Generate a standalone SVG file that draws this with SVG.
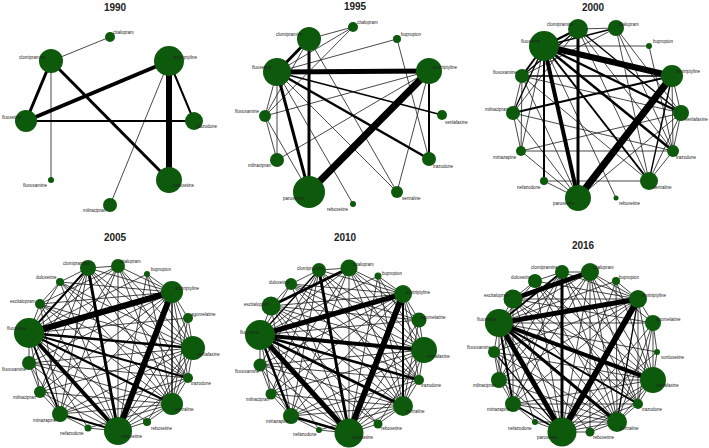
<svg xmlns="http://www.w3.org/2000/svg" xmlns:xlink="http://www.w3.org/1999/xlink" width="709" height="448" viewBox="0 0 709 448">
<style>
line{stroke:#000;stroke-linecap:butt}
.t{stroke-width:0.8;stroke:#1a1a1a}
.m{stroke-width:1.4}
.w2{stroke-width:2}
.w25{stroke-width:2.5}
.w3{stroke-width:3}
.w4{stroke-width:4}
.w5{stroke-width:5}
.w6{stroke-width:6}
.w7{stroke-width:7}
circle{fill:#0d5a0d}
.lab{font-family:"Liberation Sans",Arial,sans-serif;font-size:4.5px;fill:#222}
.ttl{font-family:"Liberation Sans",Arial,sans-serif;font-size:10px;font-weight:bold;fill:#222;text-anchor:middle}
</style>
<defs>
<g id="thin0510">
<line class="t" x1="29" y1="333" x2="118" y2="266"/>
<line class="t" x1="29" y1="333" x2="147" y2="274"/>
<line class="t" x1="29" y1="333" x2="188" y2="318"/>
<line class="t" x1="29" y1="333" x2="147" y2="422"/>
<line class="t" x1="29" y1="333" x2="88" y2="428"/>
<line class="t" x1="29" y1="333" x2="40" y2="392"/>
<line class="t" x1="29" y1="333" x2="29" y2="363"/>
<line class="t" x1="29" y1="333" x2="40" y2="304"/>
<line class="t" x1="29" y1="333" x2="60" y2="282"/>
<line class="t" x1="118" y1="431" x2="118" y2="266"/>
<line class="t" x1="118" y1="431" x2="60" y2="282"/>
<line class="t" x1="118" y1="431" x2="40" y2="304"/>
<line class="t" x1="118" y1="431" x2="29" y2="363"/>
<line class="t" x1="118" y1="431" x2="40" y2="392"/>
<line class="t" x1="118" y1="431" x2="88" y2="428"/>
<line class="t" x1="118" y1="431" x2="147" y2="422"/>
<line class="t" x1="118" y1="431" x2="172" y2="404"/>
<line class="t" x1="118" y1="431" x2="188" y2="378"/>
<line class="t" x1="118" y1="431" x2="193" y2="348"/>
<line class="t" x1="118" y1="431" x2="188" y2="318"/>
<line class="t" x1="118" y1="431" x2="147" y2="274"/>
<line class="t" x1="172" y1="292" x2="88" y2="268"/>
<line class="t" x1="172" y1="292" x2="118" y2="266"/>
<line class="t" x1="172" y1="292" x2="147" y2="274"/>
<line class="t" x1="172" y1="292" x2="188" y2="318"/>
<line class="t" x1="172" y1="292" x2="193" y2="348"/>
<line class="t" x1="172" y1="292" x2="188" y2="378"/>
<line class="t" x1="172" y1="292" x2="40" y2="392"/>
<line class="t" x1="172" y1="292" x2="60" y2="414"/>
<line class="t" x1="172" y1="292" x2="29" y2="363"/>
<line class="t" x1="172" y1="292" x2="40" y2="304"/>
<line class="t" x1="172" y1="292" x2="60" y2="282"/>
<line class="t" x1="193" y1="348" x2="88" y2="268"/>
<line class="t" x1="193" y1="348" x2="118" y2="266"/>
<line class="t" x1="193" y1="348" x2="40" y2="304"/>
<line class="t" x1="193" y1="348" x2="29" y2="363"/>
<line class="t" x1="193" y1="348" x2="40" y2="392"/>
<line class="t" x1="193" y1="348" x2="60" y2="414"/>
<line class="t" x1="193" y1="348" x2="172" y2="404"/>
<line class="t" x1="193" y1="348" x2="188" y2="378"/>
<line class="t" x1="193" y1="348" x2="188" y2="318"/>
<line class="t" x1="193" y1="348" x2="60" y2="282"/>
<line class="t" x1="172" y1="404" x2="88" y2="268"/>
<line class="t" x1="172" y1="404" x2="118" y2="266"/>
<line class="t" x1="172" y1="404" x2="40" y2="304"/>
<line class="t" x1="172" y1="404" x2="29" y2="363"/>
<line class="t" x1="172" y1="404" x2="60" y2="414"/>
<line class="t" x1="172" y1="404" x2="40" y2="392"/>
<line class="t" x1="172" y1="404" x2="147" y2="422"/>
<line class="t" x1="172" y1="404" x2="88" y2="428"/>
<line class="t" x1="172" y1="404" x2="188" y2="378"/>
<line class="t" x1="118" y1="266" x2="88" y2="268"/>
<line class="t" x1="118" y1="266" x2="40" y2="304"/>
<line class="t" x1="118" y1="266" x2="60" y2="414"/>
<line class="t" x1="118" y1="266" x2="188" y2="378"/>
<line class="t" x1="118" y1="266" x2="40" y2="392"/>
<line class="t" x1="88" y1="268" x2="188" y2="378"/>
<line class="t" x1="88" y1="268" x2="40" y2="392"/>
<line class="t" x1="88" y1="268" x2="29" y2="363"/>
<line class="t" x1="88" y1="268" x2="60" y2="414"/>
<line class="t" x1="88" y1="268" x2="60" y2="282"/>
<line class="t" x1="60" y1="414" x2="188" y2="378"/>
<line class="t" x1="60" y1="414" x2="40" y2="392"/>
<line class="t" x1="60" y1="414" x2="29" y2="363"/>
<line class="t" x1="60" y1="414" x2="88" y2="428"/>
<line class="t" x1="40" y1="304" x2="60" y2="282"/>
<line class="t" x1="29" y1="363" x2="40" y2="392"/>
<line class="t" x1="29" y1="363" x2="188" y2="378"/>
<line class="t" x1="147" y1="274" x2="172" y2="404"/>
<line class="t" x1="147" y1="274" x2="193" y2="348"/>
<line class="t" x1="147" y1="422" x2="193" y2="348"/>
<line class="t" x1="188" y1="318" x2="172" y2="404"/>
<line class="t" x1="60" y1="282" x2="188" y2="378"/>
<line class="t" x1="40" y1="304" x2="188" y2="378"/>
<line class="t" x1="40" y1="304" x2="60" y2="414"/>
<line class="t" x1="60" y1="282" x2="172" y2="404"/>
</g>
</defs>

<!-- ============ 1990 ============ -->
<text class="ttl" x="115" y="11">1990</text>
<g id="edges-1990">
<line class="t" x1="51" y1="61" x2="110" y2="37"/>
<line class="w3" x1="51" y1="61" x2="26" y2="121"/>
<line class="w3" x1="51" y1="61" x2="169" y2="180"/>
<line class="t" x1="51" y1="61" x2="51" y2="180"/>
<line class="w4" x1="169" y1="61" x2="26" y2="121"/>
<line class="w6" x1="169" y1="61" x2="169" y2="180"/>
<line class="w2" x1="169" y1="61" x2="194" y2="121"/>
<line class="t" x1="169" y1="61" x2="110" y2="205"/>
<line class="w2" x1="26" y1="121" x2="194" y2="121"/>
</g>
<g id="n1990-citalopram"><circle cx="110" cy="37" r="5"/><text class="lab" x="113" y="34">citalopram</text></g>
<g id="n1990-clomipramine"><circle cx="51" cy="61" r="12"/><text class="lab" x="19" y="59">clomipramine</text></g>
<g id="n1990-amitriptyline"><circle cx="169" cy="61" r="15"/><text class="lab" x="173" y="59">amitriptyline</text></g>
<g id="n1990-fluoxetine"><circle cx="26" cy="121" r="11"/><text class="lab" x="2" y="119">fluoxetine</text></g>
<g id="n1990-trazodone"><circle cx="194" cy="121" r="9"/><text class="lab" x="197" y="128">trazodone</text></g>
<g id="n1990-fluvoxamine"><circle cx="51" cy="180" r="3"/><text class="lab" x="23" y="187">fluvoxamine</text></g>
<g id="n1990-paroxetine"><circle cx="169" cy="180" r="13"/><text class="lab" x="173" y="187">paroxetine</text></g>
<g id="n1990-milnacipran"><circle cx="110" cy="205" r="7"/><text class="lab" x="83" y="212">milnacipran</text></g>

<!-- ============ 1995 ============ -->
<text class="ttl" x="355" y="10">1995</text>
<g id="edges-1995">
<line class="t" x1="309" y1="39" x2="353" y2="27"/>
<line class="t" x1="277" y1="72" x2="353" y2="27"/>
<line class="t" x1="277" y1="72" x2="397" y2="39"/>
<line class="m" x1="277" y1="72" x2="442" y2="115"/>
<line class="t" x1="277" y1="72" x2="397" y2="192"/>
<line class="t" x1="277" y1="72" x2="353" y2="204"/>
<line class="t" x1="277" y1="72" x2="265" y2="116"/>
<line class="t" x1="277" y1="72" x2="277" y2="160"/>
<line class="t" x1="429" y1="71" x2="265" y2="116"/>
<line class="t" x1="429" y1="71" x2="277" y2="160"/>
<line class="t" x1="429" y1="71" x2="397" y2="192"/>
<line class="t" x1="397" y1="39" x2="429" y2="159"/>
<line class="t" x1="309" y1="39" x2="397" y2="192"/>
<line class="t" x1="309" y1="39" x2="265" y2="116"/>
<line class="t" x1="265" y1="116" x2="353" y2="27"/>
<line class="t" x1="265" y1="116" x2="309" y2="192"/>
<line class="t" x1="265" y1="116" x2="277" y2="160"/>
<line class="w5" x1="277" y1="72" x2="429" y2="71"/>
<line class="w7" x1="429" y1="71" x2="309" y2="192"/>
<line class="w3" x1="309" y1="39" x2="309" y2="192"/>
<line class="w3" x1="277" y1="72" x2="309" y2="192"/>
<line class="w25" x1="277" y1="72" x2="429" y2="159"/>
<line class="w3" x1="309" y1="39" x2="277" y2="72"/>
<line class="w2" x1="429" y1="71" x2="429" y2="159"/>
</g>
<g id="n1995-citalopram"><circle cx="353" cy="27" r="5"/><text class="lab" x="357" y="24">citalopram</text></g>
<g id="n1995-bupropion"><circle cx="397" cy="39" r="4"/><text class="lab" x="401" y="36">bupropion</text></g>
<g id="n1995-clomipramine"><circle cx="309" cy="39" r="12"/><text class="lab" x="276" y="36">clomipramine</text></g>
<g id="n1995-fluoxetine"><circle cx="277" cy="72" r="14"/><text class="lab" x="252" y="69">fluoxetine</text></g>
<g id="n1995-amitriptyline"><circle cx="429" cy="71" r="13"/><text class="lab" x="433" y="69">amitriptyline</text></g>
<g id="n1995-fluvoxamine"><circle cx="265" cy="116" r="6"/><text class="lab" x="235" y="113">fluvoxamine</text></g>
<g id="n1995-venlafaxine"><circle cx="442" cy="115" r="5"/><text class="lab" x="445" y="124">venlafaxine</text></g>
<g id="n1995-milnacipran"><circle cx="277" cy="160" r="7"/><text class="lab" x="248" y="167">milnacipran</text></g>
<g id="n1995-trazodone"><circle cx="429" cy="159" r="7"/><text class="lab" x="433" y="168">trazodone</text></g>
<g id="n1995-paroxetine"><circle cx="309" cy="192" r="16"/><text class="lab" x="283" y="200">paroxetine</text></g>
<g id="n1995-sertraline"><circle cx="397" cy="192" r="6"/><text class="lab" x="402" y="200">sertraline</text></g>
<g id="n1995-reboxetine"><circle cx="353" cy="204" r="3"/><text class="lab" x="327" y="211">reboxetine</text></g>

<!-- ============ 2000 ============ -->
<text class="ttl" x="593" y="11">2000</text>
<g id="edges-2000">
<line class="m" x1="544" y1="46" x2="616" y2="28"/>
<line class="m" x1="544" y1="46" x2="513" y2="113"/>
<line class="t" x1="544" y1="46" x2="521" y2="151"/>
<line class="t" x1="544" y1="46" x2="616" y2="198"/>
<line class="t" x1="544" y1="46" x2="649" y2="46"/>
<line class="t" x1="578" y1="29" x2="616" y2="28"/>
<line class="m" x1="578" y1="29" x2="522" y2="76"/>
<line class="m" x1="578" y1="29" x2="681" y2="113"/>
<line class="t" x1="578" y1="29" x2="649" y2="181"/>
<line class="t" x1="578" y1="29" x2="673" y2="151"/>
<line class="t" x1="578" y1="29" x2="513" y2="113"/>
<line class="t" x1="616" y1="28" x2="681" y2="113"/>
<line class="t" x1="616" y1="28" x2="649" y2="181"/>
<line class="t" x1="616" y1="28" x2="522" y2="76"/>
<line class="t" x1="616" y1="28" x2="673" y2="151"/>
<line class="t" x1="649" y1="46" x2="673" y2="151"/>
<line class="m" x1="672" y1="76" x2="522" y2="76"/>
<line class="t" x1="672" y1="76" x2="681" y2="113"/>
<line class="t" x1="672" y1="76" x2="673" y2="151"/>
<line class="m" x1="672" y1="76" x2="649" y2="181"/>
<line class="t" x1="522" y1="76" x2="513" y2="113"/>
<line class="t" x1="522" y1="76" x2="521" y2="151"/>
<line class="t" x1="522" y1="76" x2="578" y2="198"/>
<line class="t" x1="522" y1="76" x2="649" y2="181"/>
<line class="t" x1="522" y1="76" x2="681" y2="113"/>
<line class="t" x1="513" y1="113" x2="521" y2="151"/>
<line class="t" x1="513" y1="113" x2="578" y2="198"/>
<line class="t" x1="513" y1="113" x2="673" y2="151"/>
<line class="t" x1="521" y1="151" x2="673" y2="151"/>
<line class="t" x1="521" y1="151" x2="578" y2="198"/>
<line class="t" x1="544" y1="181" x2="649" y2="181"/>
<line class="t" x1="544" y1="181" x2="578" y2="198"/>
<line class="t" x1="681" y1="113" x2="673" y2="151"/>
<line class="t" x1="681" y1="113" x2="649" y2="181"/>
<line class="t" x1="681" y1="113" x2="578" y2="198"/>
<line class="t" x1="673" y1="151" x2="649" y2="181"/>
<line class="t" x1="681" y1="113" x2="521" y2="151"/>
<line class="w6" x1="544" y1="46" x2="672" y2="76"/>
<line class="w7" x1="672" y1="76" x2="578" y2="198"/>
<line class="w4" x1="544" y1="46" x2="578" y2="198"/>
<line class="w3" x1="578" y1="29" x2="578" y2="198"/>
<line class="w25" x1="544" y1="46" x2="681" y2="113"/>
<line class="w25" x1="544" y1="46" x2="673" y2="151"/>
<line class="w2" x1="544" y1="46" x2="649" y2="181"/>
<line class="w2" x1="544" y1="46" x2="544" y2="181"/>
<line class="w25" x1="544" y1="46" x2="578" y2="29"/>
<line class="w2" x1="672" y1="76" x2="513" y2="113"/>
<line class="w2" x1="544" y1="46" x2="522" y2="76"/>
</g>
<g id="n2000-clomipramine"><circle cx="578" cy="29" r="10"/><text class="lab" x="547" y="26">clomipramine</text></g>
<g id="n2000-citalopram"><circle cx="616" cy="28" r="8"/><text class="lab" x="618" y="26">citalopram</text></g>
<g id="n2000-bupropion"><circle cx="649" cy="46" r="3"/><text class="lab" x="653" y="43">bupropion</text></g>
<g id="n2000-fluoxetine"><circle cx="544" cy="46" r="15"/><text class="lab" x="521" y="43">fluoxetine</text></g>
<g id="n2000-fluvoxamine"><circle cx="522" cy="76" r="7"/><text class="lab" x="493" y="74">fluvoxamine</text></g>
<g id="n2000-amitriptyline"><circle cx="672" cy="76" r="11"/><text class="lab" x="676" y="73">amitriptyline</text></g>
<g id="n2000-milnacipran"><circle cx="513" cy="113" r="7"/><text class="lab" x="485" y="111">milnacipran</text></g>
<g id="n2000-venlafaxine"><circle cx="681" cy="113" r="8"/><text class="lab" x="685" y="121">venlafaxine</text></g>
<g id="n2000-mirtazapine"><circle cx="521" cy="151" r="5"/><text class="lab" x="493" y="159">mirtazapine</text></g>
<g id="n2000-trazodone"><circle cx="673" cy="151" r="6"/><text class="lab" x="676" y="159">trazodone</text></g>
<g id="n2000-nefazodone"><circle cx="544" cy="181" r="4"/><text class="lab" x="517" y="189">nefazodone</text></g>
<g id="n2000-sertraline"><circle cx="649" cy="181" r="9"/><text class="lab" x="653" y="189">sertraline</text></g>
<g id="n2000-paroxetine"><circle cx="578" cy="198" r="13"/><text class="lab" x="553" y="205">paroxetine</text></g>
<g id="n2000-reboxetine"><circle cx="616" cy="198" r="2.5"/><text class="lab" x="619" y="205">reboxetine</text></g>

<!-- ============ 2005 ============ -->
<text class="ttl" x="115" y="241">2005</text>
<g id="edges-2005">
<use href="#thin0510" xlink:href="#thin0510"/>
<line class="w6" x1="29" y1="333" x2="172" y2="292"/>
<line class="w6" x1="172" y1="292" x2="118" y2="431"/>
<line class="w4" x1="29" y1="333" x2="118" y2="431"/>
<line class="w3" x1="88" y1="268" x2="118" y2="431"/>
<line class="w25" x1="29" y1="333" x2="193" y2="348"/>
<line class="w25" x1="29" y1="333" x2="172" y2="404"/>
<line class="w2" x1="29" y1="333" x2="188" y2="378"/>
<line class="w2" x1="29" y1="333" x2="88" y2="268"/>
<line class="m" x1="172" y1="292" x2="172" y2="404"/>
<line class="w2" x1="60" y1="414" x2="118" y2="431"/>
<line class="w2" x1="29" y1="333" x2="60" y2="414"/>
</g>
<g id="n2005-citalopram"><circle cx="118" cy="266" r="7"/><text class="lab" x="120" y="263">citalopram</text></g>
<g id="n2005-bupropion"><circle cx="147" cy="274" r="3"/><text class="lab" x="151" y="271">bupropion</text></g>
<g id="n2005-amitriptyline"><circle cx="172" cy="292" r="11"/><text class="lab" x="175" y="290">amitriptyline</text></g>
<g id="n2005-agomelatine"><circle cx="188" cy="318" r="5"/><text class="lab" x="191" y="316">agomelatine</text></g>
<g id="n2005-venlafaxine"><circle cx="193" cy="348" r="12"/><text class="lab" x="197" y="356">venlafaxine</text></g>
<g id="n2005-trazodone"><circle cx="188" cy="378" r="5"/><text class="lab" x="191" y="385">trazodone</text></g>
<g id="n2005-sertraline"><circle cx="172" cy="404" r="11"/><text class="lab" x="175" y="411">sertraline</text></g>
<g id="n2005-reboxetine"><circle cx="147" cy="422" r="4"/><text class="lab" x="151" y="430">reboxetine</text></g>
<g id="n2005-paroxetine"><circle cx="118" cy="431" r="14"/><text class="lab" x="121" y="438">paroxetine</text></g>
<g id="n2005-nefazodone"><circle cx="88" cy="428" r="3.5"/><text class="lab" x="60" y="435">nefazodone</text></g>
<g id="n2005-mirtazapine"><circle cx="60" cy="414" r="8"/><text class="lab" x="33" y="422">mirtazapine</text></g>
<g id="n2005-milnacipran"><circle cx="40" cy="392" r="6"/><text class="lab" x="13" y="399">milnacipran</text></g>
<g id="n2005-fluvoxamine"><circle cx="29" cy="363" r="7"/><text class="lab" x="2" y="371">fluvoxamine</text></g>
<g id="n2005-fluoxetine"><circle cx="29" cy="333" r="15"/><text class="lab" x="7" y="330">fluoxetine</text></g>
<g id="n2005-escitalopram"><circle cx="40" cy="304" r="5"/><text class="lab" x="10" y="303">escitalopram</text></g>
<g id="n2005-duloxetine"><circle cx="60" cy="282" r="4"/><text class="lab" x="36" y="279">duloxetine</text></g>
<g id="n2005-clomipramine"><circle cx="88" cy="268" r="8"/><text class="lab" x="63" y="265">clomipramine</text></g>

<!-- ============ 2010 ============ -->
<text class="ttl" x="345" y="241">2010</text>
<g id="edges-2010" transform="translate(231,2)">
<use href="#thin0510" xlink:href="#thin0510"/>
<line class="t" x1="40" y1="304" x2="188" y2="318"/>
<line class="t" x1="60" y1="282" x2="188" y2="318"/>
<line class="t" x1="118" y1="266" x2="188" y2="318"/>
<line class="t" x1="40" y1="304" x2="147" y2="422"/>
<line class="w5" x1="29" y1="333" x2="172" y2="292"/>
<line class="w6" x1="172" y1="292" x2="118" y2="431"/>
<line class="w5" x1="29" y1="333" x2="118" y2="431"/>
<line class="w3" x1="88" y1="268" x2="118" y2="431"/>
<line class="w4" x1="29" y1="333" x2="193" y2="348"/>
<line class="w3" x1="29" y1="333" x2="172" y2="404"/>
<line class="w25" x1="29" y1="333" x2="188" y2="378"/>
<line class="w3" x1="40" y1="304" x2="118" y2="266"/>
<line class="w25" x1="29" y1="333" x2="60" y2="414"/>
<line class="w25" x1="60" y1="414" x2="118" y2="431"/>
<line class="m" x1="29" y1="333" x2="88" y2="268"/>
<line class="w2" x1="172" y1="292" x2="172" y2="404"/>
</g>
<g id="nodes-2010" transform="translate(231,2)">
<g id="n2010-citalopram"><circle cx="118" cy="266" r="8.5"/><text class="lab" x="122" y="264">citalopram</text></g>
<g id="n2010-bupropion"><circle cx="147" cy="274" r="3.5"/><text class="lab" x="151" y="273">bupropion</text></g>
<g id="n2010-amitriptyline"><circle cx="172" cy="292" r="9"/><text class="lab" x="175" y="292">amitriptyline</text></g>
<g id="n2010-agomelatine"><circle cx="188" cy="318" r="7.5"/><text class="lab" x="190" y="317">agomelatine</text></g>
<g id="n2010-venlafaxine"><circle cx="193" cy="348" r="13"/><text class="lab" x="196" y="356">venlafaxine</text></g>
<g id="n2010-trazodone"><circle cx="188" cy="378" r="5"/><text class="lab" x="190" y="385">trazodone</text></g>
<g id="n2010-sertraline"><circle cx="172" cy="404" r="10"/><text class="lab" x="175" y="411">sertraline</text></g>
<g id="n2010-reboxetine"><circle cx="147" cy="422" r="4.5"/><text class="lab" x="150" y="428">reboxetine</text></g>
<g id="n2010-paroxetine"><circle cx="118" cy="431" r="14.5"/><text class="lab" x="121" y="437">paroxetine</text></g>
<g id="n2010-nefazodone"><circle cx="88" cy="428" r="3"/><text class="lab" x="62" y="434">nefazodone</text></g>
<g id="n2010-mirtazapine"><circle cx="60" cy="414" r="8"/><text class="lab" x="35" y="421">mirtazapine</text></g>
<g id="n2010-milnacipran"><circle cx="40" cy="392" r="5.5"/><text class="lab" x="15" y="399">milnacipran</text></g>
<g id="n2010-fluvoxamine"><circle cx="29" cy="363" r="6.5"/><text class="lab" x="4" y="371">fluvoxamine</text></g>
<g id="n2010-fluoxetine"><circle cx="29" cy="333" r="15"/><text class="lab" x="9" y="332">fluoxetine</text></g>
<g id="n2010-escitalopram"><circle cx="40" cy="304" r="9.5"/><text class="lab" x="13" y="304">escitalopram</text></g>
<g id="n2010-duloxetine"><circle cx="60" cy="282" r="6"/><text class="lab" x="38" y="282">duloxetine</text></g>
<g id="n2010-clomipramine"><circle cx="88" cy="268" r="7"/><text class="lab" x="66" y="268">clomipramine</text></g>
</g>

<!-- ============ 2016 ============ -->
<text class="ttl" x="583" y="249">2016</text>
<g id="edges-2016">
<line class="t" x1="499" y1="323" x2="590" y2="272"/>
<line class="t" x1="499" y1="323" x2="616" y2="281"/>
<line class="t" x1="499" y1="323" x2="535" y2="281"/>
<line class="t" x1="499" y1="323" x2="513" y2="299"/>
<line class="t" x1="499" y1="323" x2="653" y2="323"/>
<line class="t" x1="499" y1="323" x2="657" y2="352"/>
<line class="t" x1="499" y1="323" x2="494" y2="352"/>
<line class="t" x1="499" y1="323" x2="499" y2="380"/>
<line class="t" x1="499" y1="323" x2="535" y2="422"/>
<line class="t" x1="499" y1="323" x2="590" y2="432"/>
<line class="t" x1="562" y1="432" x2="590" y2="272"/>
<line class="t" x1="562" y1="432" x2="616" y2="281"/>
<line class="t" x1="562" y1="432" x2="535" y2="281"/>
<line class="t" x1="562" y1="432" x2="513" y2="299"/>
<line class="t" x1="562" y1="432" x2="653" y2="323"/>
<line class="t" x1="562" y1="432" x2="657" y2="352"/>
<line class="t" x1="562" y1="432" x2="499" y2="380"/>
<line class="t" x1="562" y1="432" x2="535" y2="422"/>
<line class="t" x1="562" y1="432" x2="590" y2="432"/>
<line class="t" x1="562" y1="432" x2="617" y2="422"/>
<line class="t" x1="562" y1="432" x2="638" y2="404"/>
<line class="t" x1="562" y1="432" x2="653" y2="380"/>
<line class="t" x1="638" y1="299" x2="562" y2="272"/>
<line class="t" x1="638" y1="299" x2="590" y2="272"/>
<line class="t" x1="638" y1="299" x2="616" y2="281"/>
<line class="t" x1="638" y1="299" x2="535" y2="281"/>
<line class="t" x1="638" y1="299" x2="513" y2="299"/>
<line class="t" x1="638" y1="299" x2="653" y2="323"/>
<line class="t" x1="638" y1="299" x2="653" y2="380"/>
<line class="t" x1="638" y1="299" x2="638" y2="404"/>
<line class="t" x1="638" y1="299" x2="494" y2="352"/>
<line class="t" x1="638" y1="299" x2="499" y2="380"/>
<line class="t" x1="638" y1="299" x2="513" y2="404"/>
<line class="t" x1="653" y1="380" x2="562" y2="272"/>
<line class="t" x1="653" y1="380" x2="590" y2="272"/>
<line class="t" x1="653" y1="380" x2="535" y2="281"/>
<line class="t" x1="653" y1="380" x2="513" y2="299"/>
<line class="t" x1="653" y1="380" x2="653" y2="323"/>
<line class="t" x1="653" y1="380" x2="657" y2="352"/>
<line class="t" x1="653" y1="380" x2="494" y2="352"/>
<line class="t" x1="653" y1="380" x2="499" y2="380"/>
<line class="t" x1="653" y1="380" x2="513" y2="404"/>
<line class="t" x1="653" y1="380" x2="638" y2="404"/>
<line class="t" x1="653" y1="380" x2="617" y2="422"/>
<line class="t" x1="617" y1="422" x2="562" y2="272"/>
<line class="t" x1="617" y1="422" x2="590" y2="272"/>
<line class="t" x1="617" y1="422" x2="513" y2="299"/>
<line class="t" x1="617" y1="422" x2="535" y2="281"/>
<line class="t" x1="617" y1="422" x2="494" y2="352"/>
<line class="t" x1="617" y1="422" x2="499" y2="380"/>
<line class="t" x1="617" y1="422" x2="513" y2="404"/>
<line class="t" x1="617" y1="422" x2="590" y2="432"/>
<line class="t" x1="617" y1="422" x2="535" y2="422"/>
<line class="t" x1="617" y1="422" x2="638" y2="404"/>
<line class="t" x1="617" y1="422" x2="616" y2="281"/>
<line class="t" x1="617" y1="422" x2="653" y2="323"/>
<line class="t" x1="590" y1="272" x2="562" y2="272"/>
<line class="t" x1="590" y1="272" x2="513" y2="404"/>
<line class="t" x1="590" y1="272" x2="499" y2="380"/>
<line class="t" x1="590" y1="272" x2="638" y2="404"/>
<line class="t" x1="590" y1="272" x2="653" y2="323"/>
<line class="t" x1="590" y1="272" x2="590" y2="432"/>
<line class="t" x1="562" y1="272" x2="638" y2="404"/>
<line class="t" x1="562" y1="272" x2="499" y2="380"/>
<line class="t" x1="562" y1="272" x2="494" y2="352"/>
<line class="t" x1="562" y1="272" x2="513" y2="404"/>
<line class="t" x1="562" y1="272" x2="535" y2="281"/>
<line class="t" x1="513" y1="299" x2="535" y2="281"/>
<line class="t" x1="513" y1="299" x2="513" y2="404"/>
<line class="t" x1="513" y1="299" x2="499" y2="380"/>
<line class="t" x1="513" y1="299" x2="638" y2="404"/>
<line class="t" x1="513" y1="299" x2="653" y2="323"/>
<line class="t" x1="513" y1="404" x2="638" y2="404"/>
<line class="t" x1="513" y1="404" x2="499" y2="380"/>
<line class="t" x1="513" y1="404" x2="494" y2="352"/>
<line class="t" x1="513" y1="404" x2="535" y2="422"/>
<line class="t" x1="494" y1="352" x2="499" y2="380"/>
<line class="t" x1="535" y1="281" x2="638" y2="404"/>
<line class="t" x1="653" y1="323" x2="657" y2="352"/>
<line class="t" x1="616" y1="281" x2="653" y2="380"/>
<line class="t" x1="590" y1="432" x2="653" y2="380"/>
<line class="t" x1="653" y1="323" x2="638" y2="404"/>
<line class="w5" x1="499" y1="323" x2="638" y2="299"/>
<line class="w6" x1="638" y1="299" x2="562" y2="432"/>
<line class="w5" x1="499" y1="323" x2="562" y2="432"/>
<line class="w5" x1="513" y1="299" x2="590" y2="272"/>
<line class="w4" x1="499" y1="323" x2="653" y2="380"/>
<line class="w3" x1="499" y1="323" x2="617" y2="422"/>
<line class="w3" x1="562" y1="272" x2="562" y2="432"/>
<line class="w2" x1="499" y1="323" x2="513" y2="404"/>
<line class="w2" x1="499" y1="323" x2="638" y2="404"/>
<line class="m" x1="638" y1="299" x2="617" y2="422"/>
<line class="w2" x1="499" y1="323" x2="562" y2="272"/>
<line class="w2" x1="562" y1="432" x2="513" y2="404"/>
<line class="m" x1="562" y1="432" x2="494" y2="352"/>
</g>
<g id="n2016-clomipramine"><circle cx="562" cy="272" r="7"/><text class="lab" x="531" y="269">clomipramine</text></g>
<g id="n2016-citalopram"><circle cx="590" cy="272" r="9"/><text class="lab" x="593" y="269">citalopram</text></g>
<g id="n2016-bupropion"><circle cx="616" cy="281" r="4"/><text class="lab" x="619" y="279">bupropion</text></g>
<g id="n2016-duloxetine"><circle cx="535" cy="281" r="7"/><text class="lab" x="511" y="279">duloxetine</text></g>
<g id="n2016-amitriptyline"><circle cx="638" cy="299" r="9"/><text class="lab" x="642" y="297">amitriptyline</text></g>
<g id="n2016-escitalopram"><circle cx="513" cy="299" r="9.5"/><text class="lab" x="484" y="297">escitalopram</text></g>
<g id="n2016-agomelatine"><circle cx="653" cy="323" r="8"/><text class="lab" x="656" y="321">agomelatine</text></g>
<g id="n2016-fluoxetine"><circle cx="499" cy="323" r="14"/><text class="lab" x="477" y="321">fluoxetine</text></g>
<g id="n2016-vortioxetine"><circle cx="657" cy="352" r="3"/><text class="lab" x="661" y="359">vortioxetine</text></g>
<g id="n2016-fluvoxamine"><circle cx="494" cy="352" r="6"/><text class="lab" x="467" y="349">fluvoxamine</text></g>
<g id="n2016-venlafaxine"><circle cx="653" cy="380" r="13"/><text class="lab" x="656" y="387">venlafaxine</text></g>
<g id="n2016-milnacipran"><circle cx="499" cy="380" r="8"/><text class="lab" x="473" y="387">milnacipran</text></g>
<g id="n2016-trazodone"><circle cx="638" cy="404" r="5"/><text class="lab" x="642" y="411">trazodone</text></g>
<g id="n2016-mirtazapine"><circle cx="513" cy="404" r="8"/><text class="lab" x="487" y="411">mirtazapine</text></g>
<g id="n2016-sertraline"><circle cx="617" cy="422" r="10"/><text class="lab" x="620" y="430">sertraline</text></g>
<g id="n2016-nefazodone"><circle cx="535" cy="422" r="3"/><text class="lab" x="508" y="430">nefazodone</text></g>
<g id="n2016-reboxetine"><circle cx="590" cy="432" r="4.5"/><text class="lab" x="593" y="439">reboxetine</text></g>
<g id="n2016-paroxetine"><circle cx="562" cy="432" r="14.5"/><text class="lab" x="537" y="439">paroxetine</text></g>
</svg>
